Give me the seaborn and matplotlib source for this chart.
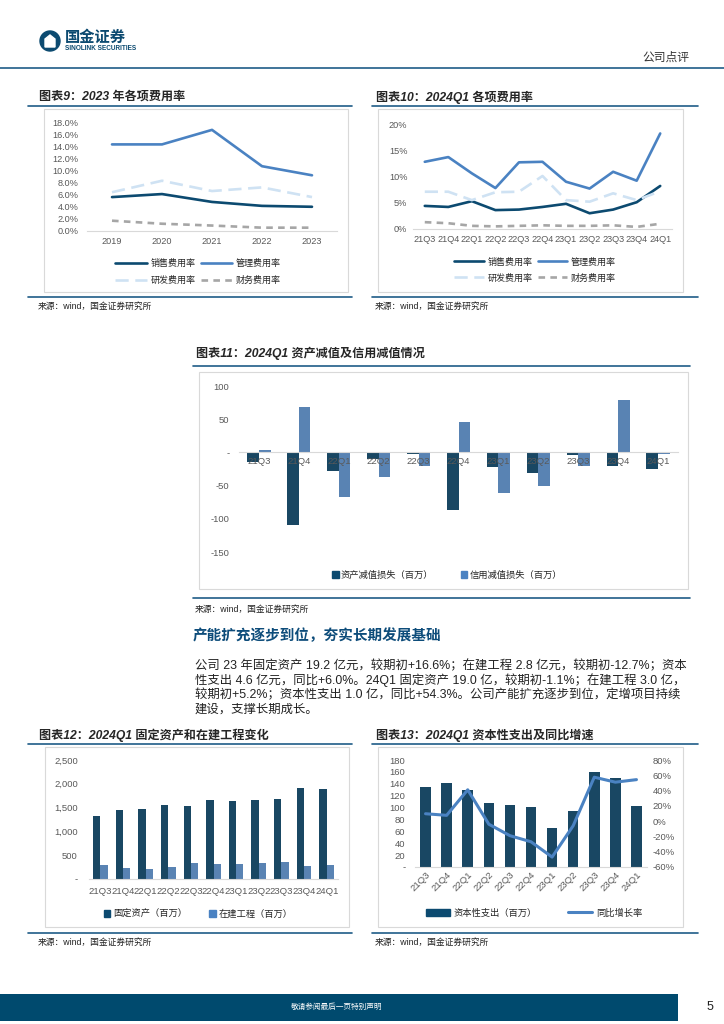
import numpy as np
import pandas as pd
import matplotlib.pyplot as plt
import seaborn as sns
from matplotlib.transforms import Affine2D
from matplotlib.lines import Line2D
from matplotlib.patches import Patch, Rectangle, Circle, Polygon
from matplotlib.ticker import FixedLocator, FuncFormatter

# ---------------- data ----------------
years = ['2019', '2020', '2021', '2022', '2023']
sales_rate_y = [5.6, 6.1, 4.8, 4.15, 4.0]
admin_rate_y = [14.3, 14.3, 16.7, 10.7, 9.2]
rd_rate_y = [6.4, 8.3, 6.6, 7.2, 5.6]
fin_rate_y = [1.7, 1.2, 0.9, 0.55, 0.55]

quarters = ['21Q3', '21Q4', '22Q1', '22Q2', '22Q3', '22Q4',
            '23Q1', '23Q2', '23Q3', '23Q4', '24Q1']
sales_rate_q = [4.4, 4.2, 5.3, 3.6, 3.7, 4.2, 4.8, 3.0, 3.7, 5.1, 8.2]
admin_rate_q = [12.8, 13.7, 10.6, 7.8, 12.7, 12.8, 9.0, 7.7, 10.9, 9.2, 18.2]
rd_rate_q = [7.1, 7.1, 5.5, 7.0, 7.1, 10.1, 5.5, 5.2, 6.8, 5.5, 7.2]
fin_rate_q = [1.3, 1.1, 0.6, 0.5, 0.6, 0.7, 0.6, 0.6, 0.7, 0.4, 1.0]

asset_impair = [-14, -109, -27.5, -10.5, -2, -86.5, -21.5, -30.5, -4.5, -20.5, -24.5]
credit_impair = [3, 68.5, -67, -37, -20.5, 45.5, -60.5, -50.5, -20.5, 79.5, -2]

fixed_assets = [1326, 1450, 1478, 1554, 1540, 1650, 1637, 1650, 1671, 1920, 1900]
cip = [290, 228, 207, 255, 345, 311, 325, 345, 366, 280, 300]

capex = [135, 142, 130, 108, 105, 101, 66, 94, 160, 149, 102]
capex_yoy = [9.7, 7.6, 41, -4, -19, -27, -47, -6, 57.5, 51, 54.3]

rate_names = ['销售费用率', '管理费用率', '研发费用率', '财务费用率']

# ---------------- style ----------------
DARK = '#0c4a70'
MID = '#4a82c2'
LIGHT = '#cfe2f3'
GRAY = '#a6a6a6'
RULE = '#1f5c87'
TXT = '#595959'

sns.set_theme(style='white')
plt.rcParams['font.family'] = ['Liberation Sans', 'Noto Sans CJK SC', 'DejaVu Sans']
plt.rcParams['axes.unicode_minus'] = False

W, H = 724, 1024
fig = plt.figure(figsize=(W / 100, H / 100), dpi=100)
pix = Affine2D().scale(1 / W, -1 / H).translate(0, 1) + fig.transFigure


def axrect(x0, y0, x1, y1):
    return [x0 / W, 1 - y1 / H, (x1 - x0) / W, (y1 - y0) / H]


def hline(x0, x1, y, color=RULE, lw=1.2):
    fig.add_artist(Line2D([x0, x1], [y, y], transform=pix, color=color, lw=lw))


def box(x0, y0, x1, y1):
    fig.add_artist(Rectangle((x0, y0), x1 - x0, y1 - y0, transform=pix,
                             fill=False, ec='#d9d9d9', lw=0.8))


def ftext(x, y, s, **kw):
    kw.setdefault('va', 'center')
    fig.text(x, y, s, transform=pix, **kw)


def style_axes(ax, n, xpad, ypad, fs=6.6):
    sns.despine(ax=ax, left=True, top=True, right=True)
    ax.spines['bottom'].set_color('#d9d9d9')
    ax.spines['bottom'].set_linewidth(0.8)
    ax.set_xlim(-0.5, n - 0.5)
    ax.xaxis.set_minor_locator(FixedLocator(np.arange(-0.5, n, 1)))
    ax.tick_params(axis='x', which='minor', length=3, width=0.8, color='#d9d9d9', direction='out')
    ax.tick_params(axis='x', which='major', length=0, pad=xpad, labelsize=fs, labelcolor=TXT)
    ax.tick_params(axis='y', length=0, pad=ypad, labelsize=fs, labelcolor=TXT)
    ax.set_xlabel('')
    ax.set_ylabel('')
    ax.grid(False)
    ax.set_facecolor('none')


def source(x, y):
    ftext(x, y, '来源：wind，国金证券研究所', fontsize=6.3, color='#222222')


# legend order: matplotlib fills columns first
legend_order = [0, 2, 1, 3]

# ---------------- page header ----------------
fig.add_artist(Circle((50, 41), 10, transform=pix, color=DARK))
fig.add_artist(Polygon([[45, 47], [45, 39], [50, 35], [55, 39], [55, 47]],
                       closed=True, transform=pix, color='white'))
ftext(65, 38, '国金证券', fontsize=11, fontweight='bold', color=DARK)
ftext(65, 48.5, 'SINOLINK SECURITIES', fontsize=4.7, fontweight='bold', color=DARK)
ftext(689, 58, '公司点评', fontsize=8.5, color='#333333', ha='right')
hline(0, W, 68, color=RULE, lw=1.2)

# ---------------- chart 9 ----------------
ftext(39, 97, '图表9：2023 年各项费用率', fontsize=8.7, fontweight='bold', style='italic')
hline(28, 352, 106)
box(44, 109, 348, 292)
hline(28, 352, 297)
source(38, 306)

df9 = pd.DataFrame({'year': years * 4,
                    'series': sum([[n] * 5 for n in rate_names], []),
                    'rate': sales_rate_y + admin_rate_y + rd_rate_y + fin_rate_y})
ax9 = fig.add_axes(axrect(87, 122, 337, 231))
sns.lineplot(data=df9, x='year', y='rate', hue='series', style='series',
             palette=dict(zip(rate_names, [DARK, MID, LIGHT, GRAY])),
             dashes=dict(zip(rate_names, ['', '', (5, 2.5), (2.5, 2)])),
             lw=1.9, sort=False, legend=False, ax=ax9)
ax9.set_ylim(0, 18)
ax9.set_yticks(np.arange(0, 18.1, 2))
ax9.yaxis.set_major_formatter(FuncFormatter(lambda v, p: f'{v:.1f}%'))
style_axes(ax9, len(years), xpad=4.3, ypad=6, fs=6.6)

line_handles = [Line2D([0], [0], color=DARK, lw=1.9),
                Line2D([0], [0], color=MID, lw=1.9),
                Line2D([0], [0], color=LIGHT, lw=1.9, ls=(0, (5, 2.5))),
                Line2D([0], [0], color=GRAY, lw=1.9, ls=(0, (2.5, 2)))]
ax9.legend(handles=[line_handles[i] for i in legend_order],
           labels=[rate_names[i] for i in legend_order], ncol=2, loc='center',
           bbox_to_anchor=(198, 272), bbox_transform=pix, frameon=False,
           fontsize=6.5, handlelength=3.5, columnspacing=0.6, handletextpad=0.4,
           labelspacing=0.85)

# ---------------- chart 10 ----------------
ftext(376, 97, '图表10：2024Q1 各项费用率', fontsize=8.7, fontweight='bold', style='italic')
hline(372, 698, 106)
box(378, 109, 683, 292)
hline(372, 698, 297)
source(375, 306)

df10 = pd.DataFrame({'quarter': quarters * 4,
                     'series': sum([[n] * len(quarters) for n in rate_names], []),
                     'rate': sales_rate_q + admin_rate_q + rd_rate_q + fin_rate_q})
ax10 = fig.add_axes(axrect(413, 124, 672, 229))
sns.lineplot(data=df10, x='quarter', y='rate', hue='series', style='series',
             palette=dict(zip(rate_names, [DARK, MID, LIGHT, GRAY])),
             dashes=dict(zip(rate_names, ['', '', (5, 2.5), (2.5, 2)])),
             lw=1.9, sort=False, legend=False, ax=ax10)
ax10.set_ylim(0, 20)
ax10.set_yticks(np.arange(0, 20.1, 5))
ax10.yaxis.set_major_formatter(FuncFormatter(lambda v, p: f'{v:.0f}%'))
style_axes(ax10, len(quarters), xpad=4, ypad=4, fs=6.6)
ax10.legend(handles=[line_handles[i] for i in legend_order],
            labels=[rate_names[i] for i in legend_order], ncol=2, loc='center',
            bbox_to_anchor=(535, 270), bbox_transform=pix, frameon=False,
            fontsize=6.5, handlelength=3.3, columnspacing=0.6, handletextpad=0.4,
            labelspacing=0.75)

# ---------------- chart 11 ----------------
ftext(196, 353, '图表11：2024Q1 资产减值及信用减值情况', fontsize=8.7, fontweight='bold', style='italic')
hline(193, 690, 366)
box(199, 372, 688, 589)
hline(193, 690, 598)
source(195, 609)

imp_names = ['资产减值损失（百万）', '信用减值损失（百万）']
df11 = pd.DataFrame({'quarter': quarters * 2,
                     'series': sum([[n] * len(quarters) for n in imp_names], []),
                     'value': asset_impair + credit_impair})
ax11 = fig.add_axes(axrect(239, 386, 678, 552))
sns.barplot(data=df11, x='quarter', y='value', hue='series', palette=[DARK, MID],
            width=0.58, gap=0, linewidth=0, legend=False, ax=ax11)
ax11.set_ylim(-150, 100)
ax11.set_yticks(np.arange(-150, 101, 50))
ax11.yaxis.set_major_formatter(FuncFormatter(lambda v, p: '-' if v == 0 else f'{v:.0f}'))
style_axes(ax11, len(quarters), xpad=3.5, ypad=7, fs=6.8)
ax11.spines['bottom'].set_position(('data', 0))
ax11.set_axisbelow(False)
ax11.legend(handles=[Patch(color=DARK), Patch(color=MID)], labels=imp_names,
            ncol=2, loc='center', bbox_to_anchor=(447, 575), bbox_transform=pix,
            frameon=False, fontsize=6.7, handlelength=0.7, handleheight=0.7,
            handletextpad=0.2, columnspacing=3.0)

# ---------------- section text ----------------
ftext(193, 636, '产能扩充逐步到位，夯实长期发展基础', fontsize=10.5, fontweight='bold', color='#0d4c7a')
body = ['公司 23 年固定资产 19.2 亿元，较期初+16.6%；在建工程 2.8 亿元，较期初-12.7%；资本',
        '性支出 4.6 亿元，同比+6.0%。24Q1 固定资产 19.0 亿，较期初-1.1%；在建工程 3.0 亿，',
        '较期初+5.2%；资本性支出 1.0 亿，同比+54.3%。公司产能扩充逐步到位，定增项目持续',
        '建设，支撑长期成长。']
for i, line in enumerate(body):
    ftext(195, 666 + i * 14.4, line, fontsize=8.9, color='#222222')

# ---------------- chart 12 ----------------
ftext(39, 735, '图表12：2024Q1 固定资产和在建工程变化', fontsize=8.7, fontweight='bold', style='italic')
hline(28, 352, 744)
box(45, 747, 349, 927)
hline(28, 352, 933)
source(38, 942)

asset_names = ['固定资产（百万）', '在建工程（百万）']
df12 = pd.DataFrame({'quarter': quarters * 2,
                     'series': sum([[n] * len(quarters) for n in asset_names], []),
                     'value': fixed_assets + cip})
ax12 = fig.add_axes(axrect(89, 760, 338, 879))
sns.barplot(data=df12, x='quarter', y='value', hue='series', palette=[DARK, MID],
            width=0.65, gap=0, linewidth=0, legend=False, ax=ax12)
ax12.set_ylim(0, 2500)
ax12.set_yticks(np.arange(0, 2501, 500))
ax12.yaxis.set_major_formatter(FuncFormatter(lambda v, p: '-' if v == 0 else f'{v:,.0f}'))
style_axes(ax12, len(quarters), xpad=6, ypad=8, fs=6.8)
ax12.legend(handles=[Patch(color=DARK), Patch(color=MID)], labels=asset_names,
            ncol=2, loc='center', bbox_to_anchor=(198, 914), bbox_transform=pix,
            frameon=False, fontsize=6.7, handlelength=0.7, handleheight=0.7,
            handletextpad=0.3, columnspacing=2.4)

# ---------------- chart 13 ----------------
ftext(376, 735, '图表13：2024Q1 资本性支出及同比增速', fontsize=8.7, fontweight='bold', style='italic')
hline(372, 698, 744)
box(378, 747, 683, 927)
hline(372, 698, 933)
source(375, 942)

ax13 = fig.add_axes(axrect(415, 760, 647, 867))
sns.barplot(x=quarters, y=capex, color=DARK, width=0.5, linewidth=0, ax=ax13)
ax13.set_ylim(0, 180)
ax13.set_yticks(np.arange(0, 181, 20))
ax13.yaxis.set_major_formatter(FuncFormatter(lambda v, p: '-' if v == 0 else f'{v:.0f}'))
style_axes(ax13, len(quarters), xpad=2, ypad=7, fs=6.8)
ax13.tick_params(axis='x', which='minor', length=0)
ax13.set_xticks(range(len(quarters)))
ax13.set_xticklabels(quarters, rotation=45, ha='right', rotation_mode='anchor')

ax13b = ax13.twinx()
sns.lineplot(x=np.arange(len(quarters)), y=capex_yoy, color=MID, lw=2.2, ax=ax13b)
ax13b.set_ylim(-60, 80)
ax13b.set_yticks(np.arange(-60, 81, 20))
ax13b.yaxis.set_major_formatter(FuncFormatter(lambda v, p: f'{v:.0f}%'))
sns.despine(ax=ax13b, left=True, top=True, right=True, bottom=True)
ax13b.tick_params(axis='y', length=0, pad=4, labelsize=6.8, labelcolor=TXT)
ax13b.set_ylabel('')
ax13b.grid(False)
ax13.set_xlim(-0.5, len(quarters) - 0.5)

ax13b.legend(handles=[Patch(color=DARK), Line2D([0], [0], color=MID, lw=2.2)],
             labels=['资本性支出（百万）', '同比增长率'], ncol=2, loc='center',
             bbox_to_anchor=(534, 913), bbox_transform=pix, frameon=False,
             fontsize=6.7, handlelength=2.6, handleheight=0.7, handletextpad=0.4,
             columnspacing=3.3)

# ---------------- footer ----------------
fig.add_artist(Rectangle((0, 994), 678, 27, transform=pix, color='#004a6e', lw=0))
ftext(337, 1007, '敬请参阅最后一页特别声明', fontsize=5.5, color='white', ha='center')
ftext(710, 1007, '5', fontsize=9, color='#222222', ha='center')

fig.savefig('out.png', dpi=100)
